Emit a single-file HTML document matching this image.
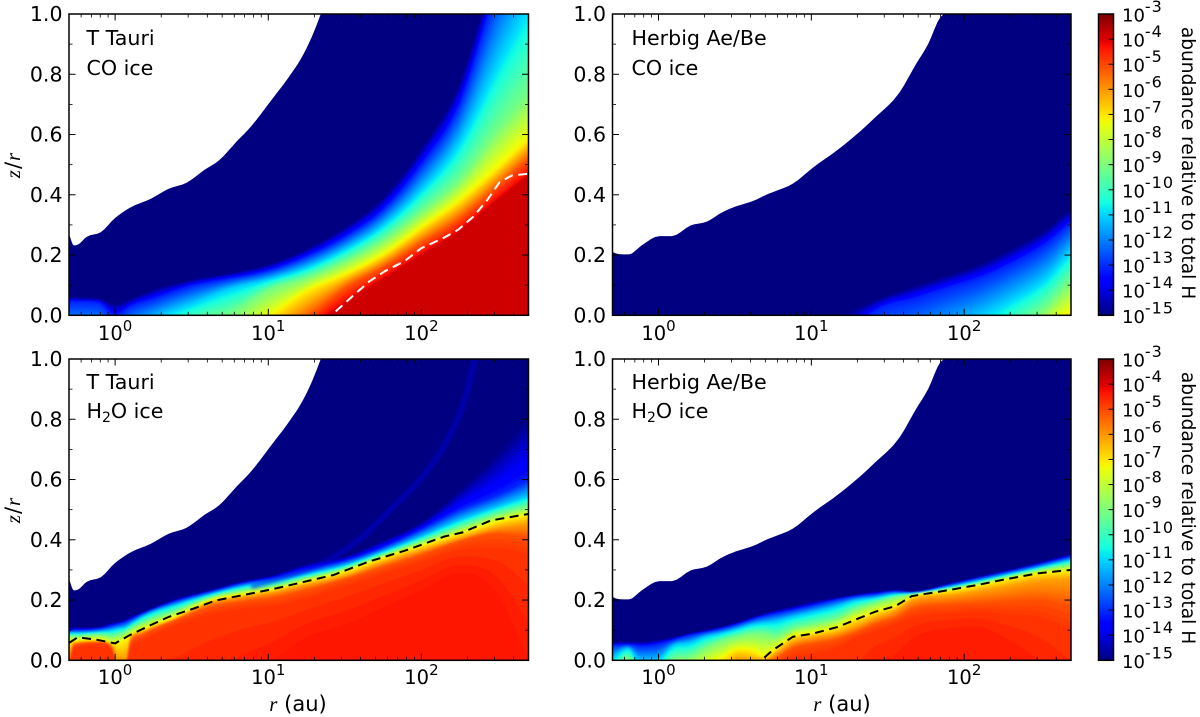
<!DOCTYPE html>
<html lang="en">
<head>
<meta charset="utf-8">
<title>CO and H2O ice abundance maps</title>
<style>
html,body{margin:0;padding:0;background:#fff;width:1200px;height:717px;overflow:hidden}
svg{display:block}
text{font-family:"DejaVu Sans","Liberation Sans",sans-serif;fill:#000}
.math{font-family:"Liberation Serif",serif;font-style:italic}
</style>
</head>
<body>
<svg id="figure" xmlns="http://www.w3.org/2000/svg" width="1200" height="717" viewBox="0 0 1200 717">
  <defs>
    <filter id="soft" filterUnits="userSpaceOnUse" x="0" y="0" width="1200" height="717"><feGaussianBlur stdDeviation="0.9"/></filter>
    <filter id="softer" filterUnits="userSpaceOnUse" x="0" y="0" width="1200" height="717"><feGaussianBlur stdDeviation="1.8"/></filter>
  </defs>
  <g id="plots"></g>

  <text x="86.5" y="45" font-size="20.6">T Tauri</text>
  <text x="86.5" y="75" font-size="20.6">CO ice</text>
  <text x="631.5" y="45" font-size="20.6">Herbig Ae/Be</text>
  <text x="631.5" y="75" font-size="20.6">CO ice</text>
  <text x="86.5" y="389" font-size="20.6">T Tauri</text>
  <text x="86.5" y="418" font-size="20.6">H<tspan font-size="14" dy="4">2</tspan><tspan dy="-4">O ice</tspan></text>
  <text x="631.5" y="389" font-size="20.6">Herbig Ae/Be</text>
  <text x="631.5" y="418" font-size="20.6">H<tspan font-size="14" dy="4">2</tspan><tspan dy="-4">O ice</tspan></text>

  <text font-size="21" text-anchor="middle" letter-spacing="1" transform="translate(20,165) rotate(-90)"><tspan class="math">z</tspan>/<tspan class="math">r</tspan></text>
  <text font-size="21" text-anchor="middle" letter-spacing="1" transform="translate(20,510) rotate(-90)"><tspan class="math">z</tspan>/<tspan class="math">r</tspan></text>
  <text x="298" y="711" font-size="21" text-anchor="middle"><tspan class="math">r</tspan> (au)</text>
  <text x="842" y="711" font-size="21" text-anchor="middle"><tspan class="math">r</tspan> (au)</text>
  <text font-size="18.6" text-anchor="middle" transform="translate(1182,163) rotate(90)">abundance relative to total H</text>
  <text font-size="18.6" text-anchor="middle" transform="translate(1182,508) rotate(90)">abundance relative to total H</text>
</svg>

<script>
// ---- Axis tick data ----
const zTickValues = [0, 0.2, 0.4, 0.6, 0.8, 1.0];
const zTickLabels = ["0.0", "0.2", "0.4", "0.6", "0.8", "1.0"];
const zMinorTicks = [0.1, 0.3, 0.5, 0.7, 0.9];
const rTickExponents = [0, 1, 2];
const rMinorTicks = [0.6, 0.7, 0.8, 0.9, 2, 3, 4, 5, 6, 7, 8, 9, 20, 30, 40, 50, 60, 70, 80, 90, 200, 300, 400];
const colorbarExponents = [-3, -4, -5, -6, -7, -8, -9, -10, -11, -12, -13, -14, -15];

// ---- Disc surface (white above) ----
const tTauriEdgeLogR = [-0.301, -0.27, -0.245, -0.187, -0.093, 0, 0.093, 0.234, 0.35, 0.467, 0.584, 0.678, 0.794, 0.888, 1.005, 1.12, 1.215, 1.285, 1.343, 1.45];
const tTauriEdgeZ = [0.27, 0.232, 0.234, 0.26, 0.276, 0.323, 0.356, 0.387, 0.42, 0.44, 0.483, 0.514, 0.577, 0.627, 0.704, 0.781, 0.853, 0.925, 1.0, 1.15];
const herbigEdgeLogR = [-0.305, -0.26, -0.193, -0.113, 0.008, 0.088, 0.209, 0.316, 0.424, 0.504, 0.611, 0.718, 0.759, 0.879, 1.013, 1.174, 1.282, 1.416, 1.576, 1.684, 1.764, 1.845, 1.866, 1.95];
const herbigEdgeZ = [0.211, 0.203, 0.202, 0.231, 0.263, 0.263, 0.298, 0.311, 0.344, 0.361, 0.378, 0.403, 0.411, 0.437, 0.491, 0.55, 0.594, 0.656, 0.739, 0.833, 0.9, 0.99, 1.0, 1.15];

// ---- T Tauri CO ice: height of each abundance level per radius column ----
const ttCoLogR = [-0.3, -0.2, -0.1, 0, 0.1, 0.25, 0.5, 0.75, 1, 1.25, 1.5, 1.75, 2, 2.25, 2.5, 2.7];
const ttCoLevels = [-15, -13, -11, -9, -7, -5, -4, -3.75];
const ttCoM15 = [0.062, 0.06, 0.057, 0.04, 0.057, 0.088, 0.12, 0.142, 0.17, 0.223, 0.295, 0.394, 0.56, 0.78, 1.2, 1.5];
const ttCoM13 = [0.045, 0.045, 0.04, 0.0, 0.03, 0.055, 0.098, 0.122, 0.148, 0.195, 0.26, 0.35, 0.5, 0.7, 1.1, 1.35];
const ttCoM11 = [-0.05, -0.05, -0.05, -0.1, -0.05, -0.01, 0.04, 0.09, 0.12, 0.16, 0.22, 0.3, 0.42, 0.58, 0.85, 1.05];
const ttCoM9 = [-0.3, -0.2, -0.2, -0.2, -0.2, -0.1, -0.03, 0.005, 0.085, 0.125, 0.18, 0.25, 0.345, 0.45, 0.62, 0.74];
const ttCoM7 = [-0.6, -0.6, -0.6, -0.6, -0.6, -0.4, -0.2, -0.1, -0.01, 0.08, 0.135, 0.2, 0.29, 0.38, 0.49, 0.585];
const ttCoM5 = [-0.8, -0.8, -0.8, -0.8, -0.8, -0.6, -0.4, -0.2, -0.1, -0.01, 0.09, 0.16, 0.24, 0.32, 0.43, 0.52];
const ttCoM4 = [-1, -1, -1, -1, -1, -0.8, -0.5, -0.3, -0.2, -0.05, 0.045, 0.125, 0.205, 0.285, 0.39, 0.47];
const ttCoTop = [-1.1, -1.1, -1.1, -1.1, -1.1, -0.9, -0.6, -0.4, -0.25, -0.055, 0.04, 0.12, 0.2, 0.28, 0.385, 0.465];
const ttCoSnowLogR = [1.44, 1.55, 1.66, 1.76, 1.89, 2.0, 2.14, 2.24, 2.34, 2.43, 2.51, 2.59, 2.7];
const ttCoSnowZ = [0.013, 0.063, 0.113, 0.146, 0.18, 0.223, 0.256, 0.284, 0.328, 0.383, 0.442, 0.464, 0.47];

// ---- Herbig CO ice ----
const hbCoLogR = [-0.3, 1.1, 1.25, 1.45, 1.67, 1.88, 2.1, 2.32, 2.54, 2.7];
const hbCoLevels = [-15, -13, -11, -9, -7];
const hbCoM15 = [-0.01, -0.005, 0.02, 0.06, 0.1, 0.134, 0.173, 0.228, 0.29, 0.36];
const hbCoM13 = [-0.1, -0.1, -0.05, 0.025, 0.055, 0.09, 0.125, 0.175, 0.24, 0.31];
const hbCoM11 = [-0.3, -0.3, -0.2, -0.15, -0.1, -0.05, 0.0, 0.06, 0.13, 0.22];
const hbCoM9 = [-0.6, -0.6, -0.5, -0.4, -0.3, -0.2, -0.15, -0.05, 0.03, 0.12];
const hbCoM7 = [-1, -1, -1, -0.8, -0.6, -0.5, -0.4, -0.25, -0.05, 0.01];

// ---- T Tauri H2O ice ----
const ttH2oLogR = [-0.3, -0.27, -0.1, -0.02, 0.02, 0.07, 0.1, 0.18, 0.4, 0.61, 0.83, 1.05, 1.22, 1.5, 1.75, 2, 2.25, 2.5, 2.7];
const ttH2oLevels = [-15, -13, -11, -9, -7, -6, -5, -4.6, -4.2];
const ttH2oM15 = [0.11, 0.11, 0.112, 0.125, 0.128, 0.135, 0.145, 0.16, 0.205, 0.232, 0.262, 0.285, 0.315, 0.345, 0.4, 0.46, 0.57, 0.7, 0.83];
const ttH2oM13 = [0.10, 0.10, 0.105, 0.115, 0.12, 0.128, 0.135, 0.155, 0.197, 0.226, 0.255, 0.275, 0.3, 0.33, 0.375, 0.435, 0.5, 0.55, 0.6];
const ttH2oM11 = [0.09, 0.09, 0.095, 0.1, 0.105, 0.11, 0.12, 0.145, 0.185, 0.217, 0.245, 0.265, 0.282, 0.315, 0.36, 0.41, 0.465, 0.51, 0.545];
const ttH2oM9 = [0.08, 0.08, 0.085, 0.08, 0.085, 0.095, 0.105, 0.125, 0.165, 0.207, 0.232, 0.248, 0.27, 0.305, 0.35, 0.395, 0.44, 0.485, 0.51];
const ttH2oM7 = [0.058, 0.063, 0.068, 0.056, 0.056, 0.068, 0.082, 0.102, 0.146, 0.197, 0.219, 0.237, 0.258, 0.295, 0.34, 0.38, 0.42, 0.46, 0.483];
const ttH2oM6 = [0.02, 0.058, 0.063, 0.05, 0.01, 0.01, 0.075, 0.095, 0.14, 0.19, 0.21, 0.228, 0.248, 0.28, 0.325, 0.365, 0.405, 0.44, 0.455];
const ttH2oM5 = [-0.01, 0.05, 0.06, 0.04, -0.05, -0.02, 0.06, 0.085, 0.135, 0.175, 0.195, 0.21, 0.23, 0.27, 0.31, 0.35, 0.395, 0.42, 0.41];
const ttH2oM46 = [-0.05, 0.04, 0.05, 0.03, -0.1, -0.05, 0.04, 0.065, 0.115, 0.15, 0.17, 0.18, 0.2, 0.245, 0.285, 0.325, 0.365, 0.37, 0.35];
const ttH2oM42 = [-0.3, -0.3, -0.3, -0.3, -0.3, -0.3, -0.3, -0.3, -0.3, -0.2, -0.1, -0.02, 0.05, 0.1, 0.16, 0.22, 0.28, 0.2, -0.05];
const ttH2oSnowLogR = [-0.3, -0.245, -0.128, 0, 0.093, 0.234, 0.35, 0.514, 0.654, 0.841, 1.028, 1.238, 1.425, 1.659, 1.893, 2.15, 2.266, 2.453, 2.7];
const ttH2oSnowZ = [0.058, 0.076, 0.069, 0.056, 0.083, 0.117, 0.144, 0.172, 0.198, 0.217, 0.236, 0.261, 0.283, 0.328, 0.364, 0.411, 0.424, 0.464, 0.486];
const ttH2oArcLogR = [0.888, 1.12, 1.355, 1.59, 1.82, 2.01, 2.17, 2.29, 2.348];
const ttH2oArcZ = [0.244, 0.278, 0.322, 0.4, 0.511, 0.611, 0.733, 0.878, 1.0];

// ---- Herbig H2O ice ----
const hbH2oLogR = [-0.3, -0.2, -0.12, -0.02, 0.1, 0.2, 0.3, 0.41, 0.52, 0.62, 0.69, 0.76, 0.88, 1.01, 1.17, 1.28, 1.42, 1.55, 1.66, 1.9, 2.09, 2.27, 2.49, 2.7];
const hbH2oLevels = [-15, -13, -11, -9, -7, -6, -5, -4.6, -4.3];
const hbH2oM15 = [0.06, 0.062, 0.062, 0.068, 0.078, 0.09, 0.1, 0.112, 0.128, 0.145, 0.155, 0.165, 0.18, 0.195, 0.208, 0.218, 0.228, 0.234, 0.228, 0.256, 0.278, 0.298, 0.325, 0.355];
const hbH2oM13 = [0.05, 0.052, 0.048, 0.052, 0.068, 0.083, 0.093, 0.105, 0.12, 0.137, 0.147, 0.155, 0.168, 0.183, 0.202, 0.212, 0.22, 0.228, 0.225, 0.25, 0.272, 0.292, 0.318, 0.345];
const hbH2oM11 = [0.01, 0.04, 0.0, 0.0, 0.05, 0.058, 0.078, 0.09, 0.105, 0.12, 0.125, 0.13, 0.145, 0.16, 0.18, 0.198, 0.208, 0.22, 0.222, 0.243, 0.263, 0.283, 0.308, 0.333];
const hbH2oM9 = [-0.05, 0.01, -0.06, -0.05, 0.005, 0.012, 0.04, 0.065, 0.08, 0.09, 0.09, 0.08, 0.105, 0.12, 0.14, 0.168, 0.192, 0.21, 0.219, 0.238, 0.256, 0.276, 0.3, 0.318];
const hbH2oM7 = [-0.3, -0.1, -0.3, -0.3, -0.06, -0.05, -0.02, 0.005, 0.035, 0.03, 0.012, 0.035, 0.08, 0.09, 0.11, 0.135, 0.16, 0.18, 0.21, 0.23, 0.248, 0.267, 0.288, 0.298];
const hbH2oM6 = [-0.6, -0.3, -0.6, -0.6, -0.3, -0.2, -0.1, -0.05, 0.008, 0.0, 0.0, 0.02, 0.06, 0.075, 0.09, 0.11, 0.14, 0.165, 0.2, 0.215, 0.23, 0.245, 0.265, 0.27];
const hbH2oM5 = [-0.8, -0.5, -0.8, -0.8, -0.5, -0.4, -0.3, -0.2, -0.1, -0.1, -0.03, 0.0, 0.04, 0.055, 0.07, 0.09, 0.12, 0.14, 0.17, 0.185, 0.19, 0.195, 0.2, 0.18];
const hbH2oM46 = [-1, -0.8, -1, -1, -0.8, -0.7, -0.6, -0.4, -0.2, -0.2, -0.1, -0.03, 0.01, 0.02, 0.04, 0.07, 0.095, 0.12, 0.14, 0.155, 0.16, 0.15, 0.14, 0.1];
const hbH2oM43 = [-1.2, -1.2, -1.2, -1.2, -1.2, -1.2, -1.2, -1.2, -1.2, -1.2, -1.2, -1.2, -0.5, -0.4, -0.3, -0.2, -0.05, -0.01, 0.05, 0.09, 0.095, 0.05, -0.05, -0.2];
const hbH2oSnowLogR = [0.692, 0.745, 0.879, 1.013, 1.174, 1.28, 1.416, 1.55, 1.657, 1.898, 2.086, 2.27, 2.488, 2.7];
const hbH2oSnowZ = [0.009, 0.033, 0.078, 0.089, 0.111, 0.133, 0.161, 0.18, 0.213, 0.233, 0.25, 0.269, 0.289, 0.3];

// ---- Drawing ----
const SVGNS = "http://www.w3.org/2000/svg";
const plots = document.getElementById("plots");
const LEVEL_MIN = -15, LEVEL_MAX = -3;
const LEVEL_STEP = 0.125;

function make(tag, parent, attrs) {
  const el = document.createElementNS(SVGNS, tag);
  for (const k in attrs) el.setAttribute(k, attrs[k]);
  parent.appendChild(el);
  return el;
}
function segment(t, pts) {
  for (let i = 1; i < pts.length; i++) {
    if (t <= pts[i][0]) {
      const a = pts[i - 1], b = pts[i];
      return a[1] + (b[1] - a[1]) * (t - a[0]) / (b[0] - a[0]);
    }
  }
  return pts[pts.length - 1][1];
}
function jet(level) {
  const t = Math.max(0, Math.min(1, (level - LEVEL_MIN) / (LEVEL_MAX - LEVEL_MIN)));
  const r = segment(t, [[0, 0], [0.35, 0], [0.66, 1], [0.89, 1], [1, 0.5]]);
  const g = segment(t, [[0, 0], [0.125, 0], [0.375, 1], [0.64, 1], [0.91, 0], [1, 0]]);
  const b = segment(t, [[0, 0.5], [0.11, 1], [0.34, 1], [0.65, 0], [1, 0]]);
  return "rgb(" + Math.round(r * 255) + "," + Math.round(g * 255) + "," + Math.round(b * 255) + ")";
}
function heightAtLevel(level, levels, contours, col) {
  for (let i = 1; i < levels.length; i++) {
    if (level <= levels[i]) {
      const f = (level - levels[i - 1]) / (levels[i] - levels[i - 1]);
      return contours[i - 1][col] + (contours[i][col] - contours[i - 1][col]) * f;
    }
  }
  return contours[contours.length - 1][col];
}
// Cubic curve through the read points with limited tangents: no corners and no overshoot.
function smoothCurve(xs, ys, sub) {
  const n = xs.length;
  const h = [], d = [];
  for (let i = 0; i < n - 1; i++) {
    h.push(xs[i + 1] - xs[i]);
    d.push((ys[i + 1] - ys[i]) / h[i]);
  }
  const m = [d[0]];
  for (let i = 1; i < n - 1; i++) {
    if (d[i - 1] * d[i] <= 0) {
      m.push(0);
    } else {
      const avg = (d[i - 1] * h[i] + d[i] * h[i - 1]) / (h[i] + h[i - 1]);
      const lim = 3 * Math.min(Math.abs(d[i - 1]), Math.abs(d[i]));
      m.push(Math.sign(avg) * Math.min(Math.abs(avg), lim));
    }
  }
  m.push(d[n - 2]);
  const out = [];
  for (let i = 0; i < n - 1; i++) {
    for (let k = 0; k < sub; k++) {
      const t = k / sub, t2 = t * t, t3 = t2 * t;
      out.push([xs[i] + h[i] * t,
        (2 * t3 - 3 * t2 + 1) * ys[i] + (t3 - 2 * t2 + t) * h[i] * m[i] + (-2 * t3 + 3 * t2) * ys[i + 1] + (t3 - t2) * h[i] * m[i + 1]]);
    }
  }
  out.push([xs[n - 1], ys[n - 1]]);
  return out;
}
function drawPanel(p) {
  const LOG_MIN = Math.log10(0.5), LOG_MAX = Math.log10(500);
  const xScale = l => p.left + (l - LOG_MIN) / (LOG_MAX - LOG_MIN) * (p.right - p.left);
  const yScale = z => p.bottom - z * (p.bottom - p.top);
  const g = make("g", plots, {});
  
  

  const clip = make("clipPath", g, { id: "clip-" + p.name });
  make("rect", clip, { x: p.left, y: p.top, width: p.right - p.left, height: p.bottom - p.top });

  const field = make("g", g, { "clip-path": "url(#clip-" + p.name + ")" });
  
  

  const base = make("rect", field, { x: p.left, y: p.top, width: p.right - p.left, height: p.bottom - p.top, fill: jet(LEVEL_MIN) });
  
  

  const bands = make("g", field, { filter: "url(#soft)" });
  
  
  const topLevel = p.levels[p.levels.length - 1];
  const last = p.logR.length - 1;
  const below = p.bottom + 14;
  for (let L = LEVEL_MIN + LEVEL_STEP; L <= topLevel + 1e-6; L += LEVEL_STEP) {
    const zs = p.logR.map((_, c) => heightAtLevel(L, p.levels, p.contours, c));
    if (Math.max.apply(null, zs) <= 0) continue;
    const curve = smoothCurve(p.logR, zs, 4);
    const clampY = z => Math.min(Math.max(yScale(z), p.top - 40), below).toFixed(1);
    const pts = [(xScale(p.logR[0]) - 14) + "," + below];
    pts.push((xScale(p.logR[0]) - 14) + "," + clampY(zs[0]));
    curve.forEach(q => pts.push(xScale(q[0]).toFixed(1) + "," + clampY(q[1])));
    pts.push((xScale(p.logR[last]) + 14) + "," + clampY(zs[last]));
    pts.push((xScale(p.logR[last]) + 14) + "," + below);
    const band = make("polygon", bands, { points: pts.join(" "), fill: jet(L - LEVEL_STEP / 2) });
    
    
  }

  if (p.arcLogR) {
    const arcPts = smoothCurve(p.arcLogR, p.arcZ, 4).map(q => xScale(q[0]).toFixed(1) + "," + yScale(q[1]).toFixed(1));
    const arc = make("polyline", field, { points: arcPts.join(" "), fill: "none", stroke: "rgb(0,0,225)", "stroke-width": 5, "stroke-opacity": 0.55, filter: "url(#softer)" });
    
    
  }

  const maskPts = [(p.left - 5) + "," + (p.top - 5)];
  maskPts.push((p.left - 5) + "," + yScale(p.edgeZ[0]).toFixed(1));
  smoothCurve(p.edgeLogR, p.edgeZ, 4).forEach(q => maskPts.push(xScale(q[0]).toFixed(1) + "," + yScale(q[1]).toFixed(1)));
  maskPts.push(xScale(p.edgeLogR[p.edgeLogR.length - 1]).toFixed(1) + "," + (p.top - 5));
  const mask = make("polygon", field, { points: maskPts.join(" "), fill: "#fff" });
  
  

  if (p.snowLogR) {
    const snowPts = p.snowLogR.map((l, i) => xScale(l).toFixed(1) + "," + yScale(p.snowZ[i]).toFixed(1));
    const snow = make("polyline", field, { points: snowPts.join(" "), fill: "none", stroke: p.snowColor, "stroke-width": 2, "stroke-dasharray": "9 5.5" });
    
    
  }

  const axes = make("g", g, {});
  
  
  const tick = (x1, y1, x2, y2, w) => {
    const t = make("line", axes, { x1: x1, y1: y1, x2: x2, y2: y2, stroke: "#000", "stroke-width": w });
    
    
  };
  rTickExponents.forEach(e => {
    const x = xScale(e);
    tick(x, p.bottom, x, p.bottom - 6.5, 1);
    tick(x, p.top, x, p.top + 6.5, 1);
    const lab = make("text", axes, { x: x, y: p.tickY, "font-size": 19.5, "text-anchor": "middle" });
    
    
    lab.appendChild(document.createTextNode("10"));
    const sup = make("tspan", lab, { "font-size": 15, dy: -9 });
    sup.textContent = String(e);
  });
  rMinorTicks.forEach(r => {
    const x = xScale(Math.log10(r));
    tick(x, p.bottom, x, p.bottom - 3.5, 0.8);
    tick(x, p.top, x, p.top + 3.5, 0.8);
  });
  zTickValues.forEach((z, i) => {
    const y = yScale(z);
    tick(p.left, y, p.left + 6.5, y, 1);
    tick(p.right, y, p.right - 6.5, y, 1);
    const lab = make("text", axes, { x: p.left - 6.5, y: y + 7, "font-size": 20.5, "text-anchor": "end" });
    
    
    lab.textContent = zTickLabels[i];
  });
  zMinorTicks.forEach(z => {
    const y = yScale(z);
    tick(p.left, y, p.left + 3.5, y, 0.8);
    tick(p.right, y, p.right - 3.5, y, 0.8);
  });
  const frame = make("rect", axes, { x: p.left, y: p.top, width: p.right - p.left, height: p.bottom - p.top, fill: "none", stroke: "#000", "stroke-width": 1.5 });
  
  
}

function drawColorbar(name, top, bottom) {
  const left = 1098.5, right = 1113.5;
  const g = make("g", plots, {});
  
  
  const yOf = lev => bottom - (lev - LEVEL_MIN) / (LEVEL_MAX - LEVEL_MIN) * (bottom - top);
  const backing = make("rect", g, { x: left, y: top, width: right - left, height: bottom - top, fill: jet(-3.05) });
  
  
  for (let L = LEVEL_MIN; L < LEVEL_MAX - 0.05; L += 0.1) {
    const seg = make("rect", g, { x: left, y: yOf(L + 0.1).toFixed(2), width: right - left, height: (yOf(L) - yOf(L + 0.1) + 0.5).toFixed(2), fill: jet(L + 0.05) });
    
    
  }
  colorbarExponents.forEach(e => {
    const y = yOf(e);
    const t = make("line", g, { x1: right, y1: y, x2: right - 5, y2: y, stroke: "#000", "stroke-width": 1 });
    
    
    const lab = make("text", g, { x: 1122, y: y + 7.5, "font-size": 18 });
    
    
    lab.appendChild(document.createTextNode("10"));
    const sup = make("tspan", lab, { "font-size": 16, dy: -9.5, "letter-spacing": 1 });
    sup.textContent = String(e);
  });
  const frame = make("rect", g, { x: left, y: top, width: right - left, height: bottom - top, fill: "none", stroke: "#000", "stroke-width": 1.5 });
  
  
}

drawPanel({ name: "t-tauri-co", left: 69, right: 528.5, top: 14, bottom: 315.3, tickY: 340,
  logR: ttCoLogR, levels: ttCoLevels, contours: [ttCoM15, ttCoM13, ttCoM11, ttCoM9, ttCoM7, ttCoM5, ttCoM4, ttCoTop],
  edgeLogR: tTauriEdgeLogR, edgeZ: tTauriEdgeZ, snowLogR: ttCoSnowLogR, snowZ: ttCoSnowZ, snowColor: "#fff" });
drawPanel({ name: "herbig-co", left: 612.5, right: 1071, top: 14, bottom: 315.3, tickY: 340,
  logR: hbCoLogR, levels: hbCoLevels, contours: [hbCoM15, hbCoM13, hbCoM11, hbCoM9, hbCoM7],
  edgeLogR: herbigEdgeLogR, edgeZ: herbigEdgeZ });
drawPanel({ name: "t-tauri-h2o", left: 69, right: 528.5, top: 359, bottom: 660.3, tickY: 684,
  logR: ttH2oLogR, levels: ttH2oLevels, contours: [ttH2oM15, ttH2oM13, ttH2oM11, ttH2oM9, ttH2oM7, ttH2oM6, ttH2oM5, ttH2oM46, ttH2oM42],
  edgeLogR: tTauriEdgeLogR, edgeZ: tTauriEdgeZ, snowLogR: ttH2oSnowLogR, snowZ: ttH2oSnowZ, snowColor: "#000",
  arcLogR: ttH2oArcLogR, arcZ: ttH2oArcZ });
drawPanel({ name: "herbig-h2o", left: 612.5, right: 1071, top: 359, bottom: 660.3, tickY: 684,
  logR: hbH2oLogR, levels: hbH2oLevels, contours: [hbH2oM15, hbH2oM13, hbH2oM11, hbH2oM9, hbH2oM7, hbH2oM6, hbH2oM5, hbH2oM46, hbH2oM43],
  edgeLogR: herbigEdgeLogR, edgeZ: herbigEdgeZ, snowLogR: hbH2oSnowLogR, snowZ: hbH2oSnowZ, snowColor: "#000" });
drawColorbar("colorbar-top", 14, 315.3);
drawColorbar("colorbar-bottom", 359, 660.3);
</script>
</body>
</html>
